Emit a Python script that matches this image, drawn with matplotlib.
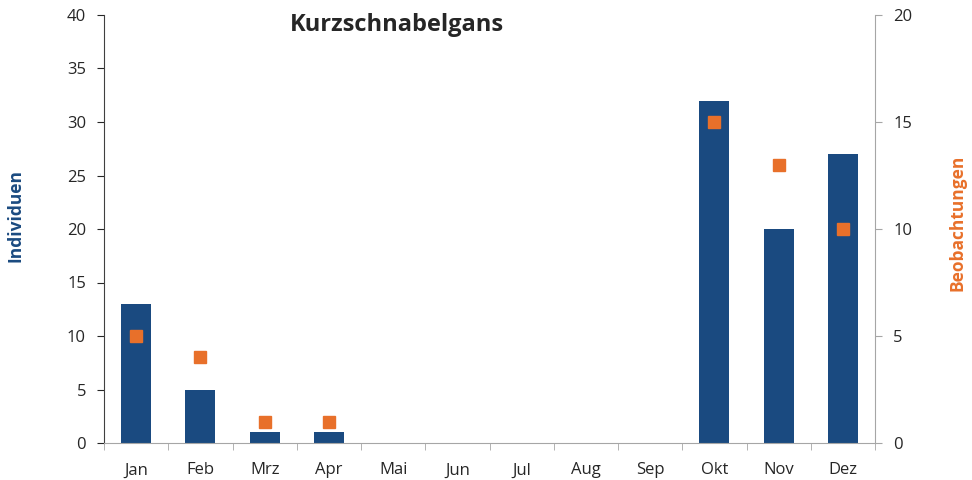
import numpy as np
import matplotlib.pyplot as plt

plt.rcParams['font.family'] = ['Open Sans', 'DejaVu Sans']

# Daten
monate = ['Jan', 'Feb', 'Mrz', 'Apr', 'Mai', 'Jun', 'Jul', 'Aug', 'Sep', 'Okt', 'Nov', 'Dez']
individuen = [13, 5, 1, 1, 0, 0, 0, 0, 0, 32, 20, 27]
beobachtungen = [5, 4, 1, 1, None, None, None, None, None, 15, 13, 10]

blau = '#1a4a80'
orange = '#e8702a'
grau = '#a6a6a6'
text = '#262626'

fig = plt.figure(figsize=(9.72, 4.8), dpi=100)
ax = fig.add_axes([104/972, 1-443/480, (875-104)/972, (443-15)/480])
x = np.arange(len(monate))

ax.bar(x, individuen, width=0.47, color=blau, zorder=2)
ax.set_xlim(-0.5, 11.5)
ax.set_ylim(0, 40)
ax.set_yticks(range(0, 41, 5))
ax.set_xticks(x)
ax.set_xticklabels(monate)
ax.set_xticks(np.arange(-0.5, 12, 1), minor=True)
ax.tick_params(axis='x', which='major', length=0, pad=14, labelsize=12, colors=text)
ax.tick_params(axis='x', which='minor', length=5, color=grau)
ax.tick_params(axis='y', length=5, color=text, labelsize=12, labelcolor=text, pad=8)
ax.spines['top'].set_visible(False)
ax.spines['right'].set_visible(False)
ax.spines['bottom'].set_color(grau)
ax.spines['left'].set_color('#404040')

ax2 = ax.twinx()
y2 = np.array([np.nan if v is None else v for v in beobachtungen], dtype=float)
ax2.plot(x, y2, 's', color=orange, markersize=9, linestyle='none', zorder=3)
ax2.set_ylim(0, 20)
ax2.set_yticks(range(0, 21, 5))
ax2.tick_params(axis='y', length=5, color=grau, labelsize=12, labelcolor=text, pad=8)
for s in ['top', 'left', 'bottom']:
    ax2.spines[s].set_visible(False)
ax2.spines['right'].set_color(grau)

fig.text(16/972, 1-215/480, 'Individuen', rotation=90, ha='center', va='center',
         color=blau, fontweight='bold', fontsize=12.5)
fig.text(957/972, 1-223/480, 'Beobachtungen', rotation=90, ha='center', va='center',
         color=orange, fontweight='bold', fontsize=12.5)
fig.text(397/972, 1-25/480, 'Kurzschnabelgans', ha='center', va='center',
         fontsize=17, fontweight='bold', color=text)

fig.savefig('out.png', dpi=100)
